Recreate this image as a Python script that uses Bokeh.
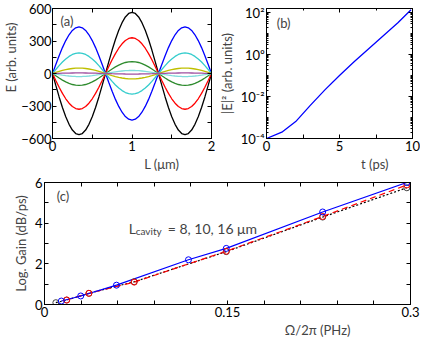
from bokeh.plotting import figure
from bokeh.layouts import column, row
from bokeh.models import (FixedTicker, LinearAxis, LogAxis, Title, Label, Range1d,
                          CustomJSTickFormatter, CustomLabelingPolicy)
from bokeh.embed import file_html
from bokeh.resources import INLINE

FONT = "Lato"
FS = "13px"

# ---------------- data ----------------
# (a) standing-wave field profiles
L_um = [i / 24 for i in range(49)]
mode_profile = [0, .195, .383, .556, .707, .831, .924, .981, 1, .981, .924, .831, .707, .556, .383, .195, 0,
                -.195, -.383, -.556, -.707, -.831, -.924, -.981, -1, -.981, -.924, -.831, -.707, -.556, -.383, -.195, 0,
                .195, .383, .556, .707, .831, .924, .981, 1, .981, .924, .831, .707, .556, .383, .195, 0]
mode_amplitudes = [-565, 430, -330, 190, -110, 50, -28, 5]
mode_colors = ["#000000", "#0000ff", "#ff0000", "#33cccc", "#2e8b2e", "#bfbf00", "#80dcdc", "#a050a0"]

# (b) intensity growth
t_ps = [0, 1.05, 2, 3, 4, 5, 6, 7, 8, 9, 9.9]
E2 = [1.0e-4, 2.0e-4, 6.4e-4, 3.8e-3, 2.1e-2, 0.102, 0.457, 1.91, 7.96, 33.3, 139]

# (c) logarithmic gain vs frequency, three cavity lengths
blue_x = [0.0138, 0.0297, 0.059, 0.118, 0.149, 0.228, 0.297]
blue_y = [0.17, 0.42, 0.95, 2.2, 2.76, 4.55, 6.0]
red_x = [0.0182, 0.0364, 0.0735, 0.149, 0.228, 0.297]
red_y = [0.22, 0.55, 1.1, 2.62, 4.33, 5.88]
black_x = [0.0093, 0.0182, 0.0364, 0.0735, 0.149, 0.228, 0.297]
black_y = [0.09, 0.22, 0.55, 1.12, 2.6, 4.3, 5.74]

a_xticks, a_xminor = [0, 1, 2], [0.5, 1.5]
a_yticks, a_yminor = [-600, -300, 0, 300, 600], [-450, -150, 150, 450]
b_xticks, b_xminor = [0, 5, 10], [2.5, 7.5]
b_yticks = [1e-4, 1e-2, 1, 1e2]
c_xticks, c_xminor = [0, 0.15, 0.3], [0.03, 0.06, 0.09, 0.12, 0.18, 0.21, 0.24, 0.27]
c_yticks, c_yminor = [0, 2, 4, 6], [1, 3, 5]


def style_axis(ax, labels=True, minor_len=4):
    ax.axis_line_color = "black"
    ax.major_tick_in = 4
    ax.major_tick_out = 0
    ax.minor_tick_in = minor_len
    ax.minor_tick_out = 0
    ax.major_tick_line_color = "black"
    ax.minor_tick_line_color = "black"
    ax.major_label_text_font = FONT
    ax.major_label_text_color = "black"
    ax.axis_label_text_font = FONT
    ax.axis_label_text_font_size = FS
    ax.axis_label_text_font_style = "normal"
    ax.axis_label_standoff = 3
    if labels:
        ax.major_label_text_font_size = FS
        ax.major_label_standoff = 2
    else:
        ax.major_label_text_font_size = "1px"
        ax.major_label_standoff = 0
        ax.formatter = CustomJSTickFormatter(code="return '';")
        ax.major_label_policy = CustomLabelingPolicy(code="return [];")


def base_fig(**kw):
    p = figure(output_backend="svg", toolbar_location=None, **kw)
    p.xgrid.visible = False
    p.ygrid.visible = False
    p.outline_line_color = "black"
    p.outline_line_alpha = 1
    p.background_fill_color = "white"
    return p


def add_mirror(p, xt, yt, log_y=False, minor_len=4):
    top = LinearAxis(ticker=xt)
    style_axis(top, labels=False, minor_len=minor_len)
    p.add_layout(top, "above")
    right = LogAxis(ticker=yt) if log_y else LinearAxis(ticker=yt)
    style_axis(right, labels=False, minor_len=minor_len)
    p.add_layout(right, "right")


def xtitle(p, text, offset):
    p.add_layout(Title(text=text, align="right", offset=offset, standoff=0,
                       text_font=FONT, text_font_size=FS, text_font_style="normal"), "below")


# ---------------- panel (a) ----------------
pa = base_fig(width=215, height=172, x_range=Range1d(0, 2), y_range=Range1d(-600, 600),
              min_border_left=46, min_border_right=4, min_border_top=8, min_border_bottom=34)
axt = FixedTicker(ticks=a_xticks, minor_ticks=a_xminor)
ayt = FixedTicker(ticks=a_yticks, minor_ticks=a_yminor)
pa.xaxis.ticker = axt
pa.yaxis.ticker = ayt
style_axis(pa.xaxis[0])
style_axis(pa.yaxis[0])
pa.yaxis.major_label_standoff = 1
add_mirror(pa, axt, ayt)
for amp, col in zip(mode_amplitudes, mode_colors):
    pa.line(L_um, [amp * v for v in mode_profile], line_color=col, line_width=1.3)
pa.add_layout(Label(x=0.1, y=484, text="(a)", text_font=FONT, text_font_size=FS,
                    text_baseline="middle"))
xtitle(pa, "L (μm)", 32)
pa.add_layout(Title(text="E (arb. units)", align="right", offset=14, standoff=0,
                    text_font=FONT, text_font_size=FS, text_font_style="normal"), "left")

# ---------------- panel (b) ----------------
pb = base_fig(width=205, height=172, x_range=Range1d(0, 10), y_range=Range1d(1e-4, 160),
              y_axis_type="log",
              min_border_left=47, min_border_right=8, min_border_top=8, min_border_bottom=34)
bxt = FixedTicker(ticks=b_xticks, minor_ticks=b_xminor)
b_minor = [m * 10.0 ** e for e in range(-4, 3) for m in range(1, 10) if not (m == 1 and e % 2 == 0)]
byt = FixedTicker(ticks=b_yticks, minor_ticks=b_minor)
pb.xaxis.ticker = bxt
pb.yaxis.ticker = byt
pb.yaxis.formatter = CustomJSTickFormatter(code="""
const e = Math.round(Math.log10(tick));
const sup = {'-':'\u207b','0':'\u2070','1':'\u00b9','2':'\u00b2','3':'\u00b3','4':'\u2074'};
return '10' + String(e).split('').map(c => sup[c]).join('');
""")
style_axis(pb.xaxis[0])
style_axis(pb.yaxis[0], minor_len=2)
pb.yaxis.axis_label = "|E|² (arb. units)"
add_mirror(pb, bxt, byt, log_y=True, minor_len=2)
pb.line(t_ps, E2, line_color="#0000ff", line_width=1.3)
pb.add_layout(Label(x=0.7, y=32, text="(b)", text_font=FONT, text_font_size=FS,
                    text_baseline="middle"))
xtitle(pb, "t (ps)", 24)

# ---------------- panel (c) ----------------
pc = base_fig(width=420, height=166, x_range=Range1d(0, 0.3), y_range=Range1d(0, 6),
              min_border_left=44, min_border_right=10, min_border_top=10, min_border_bottom=34)
cxt = FixedTicker(ticks=c_xticks, minor_ticks=c_xminor)
cyt = FixedTicker(ticks=c_yticks, minor_ticks=c_yminor)
pc.xaxis.ticker = cxt
pc.yaxis.ticker = cyt
pc.xaxis.formatter = CustomJSTickFormatter(code="return String(Math.round(tick*100)/100);")
style_axis(pc.xaxis[0])
style_axis(pc.yaxis[0])
pc.yaxis.axis_label = "Log. Gain (dB/ps)"
add_mirror(pc, cxt, cyt)
pc.line(black_x, black_y, line_color="black", line_width=1.2, line_dash="2 2")
pc.line(red_x, red_y, line_color="#ff0000", line_width=1.2, line_dash="6 4")
pc.line(blue_x, blue_y, line_color="#0000ff", line_width=1.2)
pc.scatter(black_x, black_y, marker="circle", size=6, fill_color=None, line_color="#444444", line_width=1)
pc.scatter(red_x, red_y, marker="circle", size=6, fill_color=None, line_color="#ff0000", line_width=1)
pc.scatter(blue_x, blue_y, marker="circle", size=6, fill_color=None, line_color="#0000ff", line_width=1)
pc.add_layout(Label(x=0.01, y=5.34, text="(c)", text_font=FONT, text_font_size=FS,
                    text_baseline="middle"))
pc.add_layout(Label(x=0.069, y=3.74, text="L", text_font=FONT, text_font_size="14px",
                    text_baseline="middle"))
pc.add_layout(Label(x=0.069, y=3.74, x_offset=7, y_offset=-3, text="cavity", text_font=FONT,
                    text_font_size="10px", text_baseline="middle"))
pc.add_layout(Label(x=0.069, y=3.74, x_offset=39, text="= 8, 10, 16 μm", text_font=FONT,
                    text_font_size="14px", text_baseline="middle"))
xtitle(pc, "Ω/2π (PHz)", 60)

layout = column(row(pa, pb), pc)
open("out.html", "w").write(file_html(layout, INLINE))
